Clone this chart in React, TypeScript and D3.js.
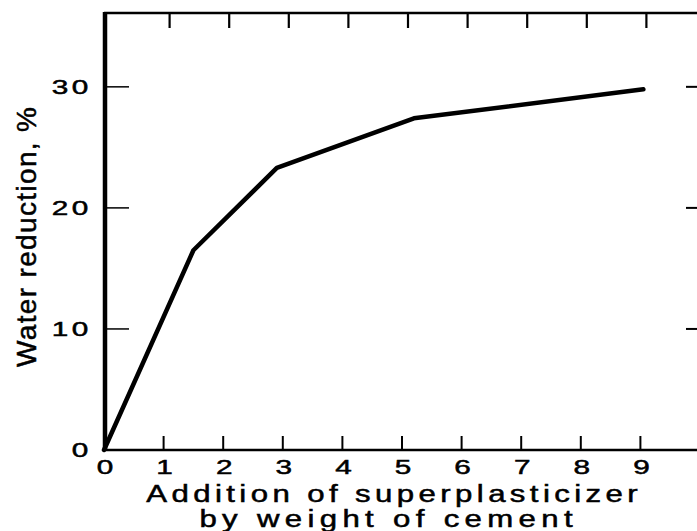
import React from "react";
import * as d3 from "d3";

const dosage = [0, 1.5, 2.9, 5.2, 9.05];
const waterReduction = [0, 16.5, 23.3, 27.4, 29.8];
const xTicks = [0, 1, 2, 3, 4, 5, 6, 7, 8, 9];
const yTicks = [0, 10, 20, 30];
const xLabelLines = ["Addition of superplasticizer", "by weight of cement"];
const yLabel = "Water reduction, %";

const W = 697;
const H = 531;
const font = "'Liberation Sans', Arial, sans-serif";

function WideText(props: {
  x: number;
  y: number;
  sx: number;
  size: number;
  anchor: "start" | "middle" | "end";
  spacing?: number;
  length?: number;
  children: React.ReactNode;
}) {
  const { x, y, sx, size, anchor, spacing, length, children } = props;
  return (
    <text
      transform={`translate(${x},${y}) scale(${sx},1)`}
      textAnchor={anchor}
      fontFamily={font}
      fontSize={size}
      letterSpacing={spacing}
      textLength={length}
      lengthAdjust={length ? "spacing" : undefined}
      fill="#000"
      stroke="#000"
      strokeWidth={0.5}
    >
      {children}
    </text>
  );
}

export default function App() {
  const x = d3.scaleLinear().domain([0, 10]).range([104, 700]);
  const y = d3.scaleLinear().domain([0, 36.1]).range([450, 13]);
  const pts = dosage.map((d, i) => [d, waterReduction[i]] as [number, number]);
  const line = d3.line<[number, number]>().x((d) => x(d[0])).y((d) => y(d[1]));
  const x0 = x(0);
  const x1 = x(10);
  const yb = y(0);
  const yt = y(36.1);
  return (
    <svg width={W} height={H} style={{ position: "absolute", left: 0, top: 0, background: "#fff" }}>
      {/* frame */}
      <line x1={x0} x2={x1} y1={yb} y2={yb} stroke="#000" strokeWidth={2.5} />
      <line x1={x0} x2={x1} y1={yt} y2={yt} stroke="#000" strokeWidth={2.5} />
      <line x1={x0 + 1} x2={x0 + 1} y1={yt - 1} y2={yb + 1} stroke="#000" strokeWidth={4.5} />
      <line x1={x1} x2={x1} y1={yt} y2={yb} stroke="#000" strokeWidth={2.5} />
      {/* x ticks */}
      {xTicks.map((t) => (
        <g key={"xt" + t}>
          {t > 0 && <line x1={x(t)} x2={x(t)} y1={yb} y2={yb - 14} stroke="#000" strokeWidth={2} />}
          {t > 0 && <line x1={x(t) + 6} x2={x(t) + 6} y1={yt} y2={yt + 15} stroke="#000" strokeWidth={2.2} />}
          <WideText x={x(t) + 1} y={yb + 24} sx={1.45} size={20.5} anchor="middle">
            {t}
          </WideText>
        </g>
      ))}
      {/* y ticks */}
      {yTicks.map((t) => (
        <g key={"yt" + t}>
          {t > 0 && <line x1={x0} x2={x0 + 25} y1={y(t)} y2={y(t)} stroke="#000" strokeWidth={1.5} />}
          {t > 0 && <line x1={x1} x2={x1 - 14} y1={y(t)} y2={y(t)} stroke="#000" strokeWidth={2} />}
          <WideText x={x0 - 12} y={y(t) + 7} sx={1.45} size={20.5} anchor="end" spacing={2.5}>
            {t}
          </WideText>
        </g>
      ))}
      {/* data line */}
      <path d={line(pts) || ""} fill="none" stroke="#000" strokeWidth={4.5} strokeLinejoin="round" strokeLinecap="round" />
      {/* axis labels */}
      <WideText x={392} y={502} sx={1.3} size={24} anchor="middle" length={378}>
        {xLabelLines[0]}
      </WideText>
      <WideText x={386} y={527} sx={1.3} size={24} anchor="middle" length={287}>
        {xLabelLines[1]}
      </WideText>
      <text
        transform={`translate(36, 237) rotate(-90)`}
        textAnchor="middle"
        fontFamily={font}
        fontSize={28}
        textLength={260}
        lengthAdjust="spacing"
        fill="#000"
        stroke="#000"
        strokeWidth={0.5}
      >
        {yLabel}
      </text>
    </svg>
  );
}
